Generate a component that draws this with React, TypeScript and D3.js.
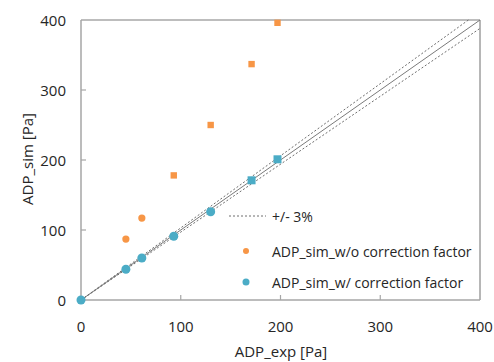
import React from 'react';
import * as d3 from 'd3';

// values (Pa)
const expCircles = [0, 45, 61, 93, 130];
const simCorrCircles = [0, 44, 60, 91, 126];
const expSquares = [171, 197];
const simCorrSquares = [171, 201];

const expOrangeCircles = [45, 61];
const simRawCircles = [87, 117];
const expOrangeSquares = [93, 130, 171, 197];
const simRawSquares = [178, 250, 337, 396];

const ticks = [0, 100, 200, 300, 400];
const tolerance = 0.03;

const legendLabels = ['+/- 3%', 'ADP_sim_w/o correction factor', 'ADP_sim_w/ correction factor'];

const width = 494;
const height = 362;
const margin = { top: 20, right: 14, bottom: 62, left: 81 };

const ORANGE = '#F79646';
const BLUE = '#4BACC6';
const GRID = '#a6a6a6';
const FONT = '"Open Sans", sans-serif';

const App = () => {
  const x = d3.scaleLinear().domain([0, 400]).range([margin.left, width - margin.right]);
  const y = d3.scaleLinear().domain([0, 400]).range([height - margin.bottom, margin.top]);

  const line = d3.line<number[]>().x(d => x(d[0])).y(d => y(d[1]));
  const ratioLine = (k: number) => {
    const xEnd = Math.min(400, 400 / k);
    return line([[0, 0], [xEnd, xEnd * k]]);
  };

  return (
    <svg width={width} height={height} style={{ position: 'absolute', left: 0, top: 0, background: '#fff' }}>
      {/* frame */}
      <line x1={x(0)} x2={x(400)} y1={y(400)} y2={y(400)} stroke="#bdbdbd" strokeWidth={2} />
      <line x1={x(400)} x2={x(400)} y1={y(400)} y2={y(0)} stroke="#6e6e6e" strokeWidth={1} />

      {/* reference lines */}
      <path d={ratioLine(1) || ''} stroke="#7a7a7a" strokeWidth={1} fill="none" />
      <path d={ratioLine(1 + tolerance) || ''} stroke="#6e6e6e" strokeWidth={1} strokeDasharray="2,2" fill="none" />
      <path d={ratioLine(1 - tolerance) || ''} stroke="#6e6e6e" strokeWidth={1} strokeDasharray="2,2" fill="none" />

      {/* axes */}
      <line x1={x(0)} x2={x(0)} y1={y(0)} y2={y(400)} stroke={GRID} strokeWidth={1.5} />
      <line x1={x(0)} x2={x(400)} y1={y(0)} y2={y(0)} stroke={GRID} strokeWidth={1.5} />
      {ticks.map(t => (
        <g key={'t' + t} fontFamily={FONT} fontSize={15} fill="#262626">
          {t > 0 && t < 400 && (
            <>
              <line x1={x(0)} x2={x(0) + 5} y1={y(t)} y2={y(t)} stroke={GRID} strokeWidth={1.2} />
              <line x1={x(t)} x2={x(t)} y1={y(0)} y2={y(0) - 5} stroke={GRID} strokeWidth={1.2} />
            </>
          )}
          <text x={x(0) - 15} y={y(t)} textAnchor="end" dominantBaseline="central">{t}</text>
          <text x={x(t)} y={332} textAnchor="middle">{t}</text>
        </g>
      ))}
      <text x={281} y={357} textAnchor="middle" fontFamily={FONT} fontSize={15} fill="#262626">ADP_exp [Pa]</text>
      <text transform={`translate(33, ${159}) rotate(-90)`} textAnchor="middle" fontFamily={FONT} fontSize={15} fill="#262626">ADP_sim [Pa]</text>

      {/* without correction factor */}
      {expOrangeCircles.map((v, i) => (
        <circle key={'oc' + i} cx={x(v)} cy={y(simRawCircles[i])} r={3.6} fill={ORANGE} />
      ))}
      {expOrangeSquares.map((v, i) => (
        <rect key={'os' + i} x={x(v) - 3.2} y={y(simRawSquares[i]) - 3.2} width={6.4} height={6.4} fill={ORANGE} />
      ))}

      {/* with correction factor */}
      {expCircles.map((v, i) => (
        <circle key={'bc' + i} cx={x(v)} cy={y(simCorrCircles[i])} r={4.5} fill={BLUE} />
      ))}
      {expSquares.map((v, i) => (
        <rect key={'bs' + i} x={x(v) - 4} y={y(simCorrSquares[i]) - 4} width={8} height={8} fill={BLUE} />
      ))}

      {/* legend */}
      <g fontFamily={FONT} fontSize={14} fill="#262626">
        <line x1={229} x2={266} y1={216} y2={216} stroke="#6e6e6e" strokeDasharray="2,2" />
        <text x={272} y={216} dominantBaseline="central">{legendLabels[0]}</text>
        <circle cx={246} cy={251} r={3} fill={ORANGE} />
        <text x={272} y={251} dominantBaseline="central">{legendLabels[1]}</text>
        <circle cx={246} cy={282} r={3.5} fill={BLUE} />
        <text x={272} y={282} dominantBaseline="central">{legendLabels[2]}</text>
      </g>
    </svg>
  );
};

export default App;
